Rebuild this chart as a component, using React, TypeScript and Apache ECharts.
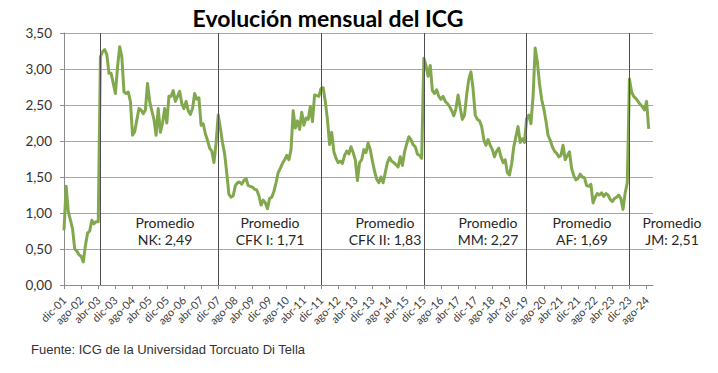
import React, { useEffect, useRef } from "react";
import * as echarts from "echarts";

const MONTHS = ["ene", "feb", "mar", "abr", "may", "jun", "jul", "ago", "sep", "oct", "nov", "dic"];

// Monthly categories from dic-01 to nov-24
const categories: string[] = [];
for (let i = 0; i < 276; i++) {
  const k = 11 + i;
  const m = k % 12;
  const y = 2001 + Math.floor(k / 12);
  categories.push(`${MONTHS[m]}-${String(y % 100).padStart(2, "0")}`);
}

// ICG values by period
const pre = [0.76, 1.37, 1.02, 0.9, 0.78, 0.5, 0.47, 0.42, 0.4, 0.32, 0.55, 0.72, 0.75, 0.9, 0.85, 0.88, 0.88];
const nk = [3.17, 3.24, 3.27, 3.2, 2.94, 2.94, 2.8, 2.66, 3.03, 3.31, 3.17, 2.68, 2.66, 2.68, 2.55, 2.08, 2.13, 2.29, 2.45, 2.43,
  2.38, 2.43, 2.8, 2.55, 2.42, 2.3, 2.08, 2.45, 2.12, 2.25, 2.45, 2.25, 2.62, 2.62, 2.7, 2.55, 2.62, 2.69, 2.52, 2.45,
  2.55, 2.42, 2.37, 2.45, 2.66, 2.58, 2.6, 2.22, 2.24, 2.1, 2.01, 1.9, 1.86, 1.7, 1.97];
const cfk1 = [2.36, 2.18, 1.98, 1.82, 1.55, 1.26, 1.22, 1.24, 1.38, 1.42, 1.43, 1.4, 1.45, 1.48, 1.38, 1.37, 1.36, 1.33, 1.32, 1.24,
  1.11, 1.18, 1.14, 1.06, 1.2, 1.22, 1.3, 1.42, 1.56, 1.62, 1.69, 1.74, 1.8, 1.74, 1.88, 2.42, 2.18, 2.28, 2.16, 2.4,
  2.22, 2.32, 2.3, 2.48, 2.27, 2.64, 2.63, 2.62];
const cfk2 = [2.73, 2.74, 2.55, 2.3, 1.95, 2.12, 1.85, 1.76, 1.7, 1.72, 1.69, 1.8, 1.86, 1.82, 1.92, 1.84, 1.74, 1.45, 1.7, 1.74,
  1.88, 1.84, 1.97, 1.88, 1.72, 1.58, 1.47, 1.42, 1.5, 1.42, 1.56, 1.7, 1.77, 1.72, 1.7, 1.67, 1.64, 1.78, 1.66, 1.85,
  1.96, 2.06, 2.02, 1.95, 1.92, 1.82, 1.8, 1.76];
const mm = [3.15, 3.05, 2.9, 3.05, 2.7, 2.66, 2.71, 2.62, 2.58, 2.62, 2.55, 2.52, 2.48, 2.42, 2.35, 2.45, 2.64, 2.46, 2.3, 2.36,
  2.64, 2.86, 2.96, 2.72, 2.36, 2.3, 2.28, 2.2, 2.02, 1.94, 2.02, 1.94, 1.88, 1.78, 1.86, 1.9, 1.78, 1.7, 1.74, 1.56,
  1.53, 1.68, 1.92, 2.06, 2.2, 1.98, 2.03, 1.98];
const af = [2.31, 2.36, 2.24, 2.62, 3.29, 3.1, 2.8, 2.58, 2.45, 2.28, 2.08, 2.01, 1.92, 1.86, 1.83, 1.78, 1.8, 1.94, 1.74, 1.8,
  1.85, 1.62, 1.52, 1.46, 1.48, 1.54, 1.5, 1.49, 1.38, 1.37, 1.4, 1.14, 1.22, 1.27, 1.25, 1.28, 1.23, 1.27, 1.25, 1.19,
  1.16, 1.2, 1.22, 1.25, 1.2, 1.05, 1.28, 1.42];
const jm = [2.86, 2.68, 2.62, 2.59, 2.55, 2.51, 2.48, 2.43, 2.55, 2.17];

const icg = [...pre, ...nk, ...cfk1, ...cfk2, ...mm, ...af, ...jm];

// Start of each presidency (vertical separators)
const periodStarts = ["may-03", "dic-07", "dic-11", "dic-15", "dic-19", "dic-23"];

// Average annotations
const averages = [
  { label: "NK: 2,49", x: 165 },
  { label: "CFK I: 1,71", x: 270 },
  { label: "CFK II: 1,83", x: 385 },
  { label: "MM: 2,27", x: 488 },
  { label: "AF: 1,69", x: 582 },
  { label: "JM: 2,51", x: 672 },
];

const yTicks = { min: 0, max: 3.5, interval: 0.5 };

export default function App() {
  const ref = useRef<HTMLDivElement>(null);

  useEffect(() => {
    if (!ref.current) return;
    const chart = echarts.init(ref.current, undefined, { renderer: "svg" });
    const option: any = {
      animation: false,
      backgroundColor: "#ffffff",
      grid: { left: 64, right: 65, top: 33, bottom: 88, containLabel: false },
      xAxis: {
        type: "category",
        data: categories,
        boundaryGap: false,
        axisLine: { show: true, lineStyle: { color: "#8c8c8c", width: 1 } },
        axisTick: {
          show: true,
          interval: (i: number) => i % 8 === 0,
          length: 4,
          lineStyle: { color: "#8c8c8c" },
        },
        axisLabel: {
          interval: (i: number) => i % 8 === 0,
          rotate: 45,
          fontFamily: "Lato",
          fontSize: 11,
          color: "#404040",
          margin: 13,
        },
        splitLine: { show: false },
      },
      yAxis: {
        type: "value",
        min: yTicks.min,
        max: yTicks.max,
        interval: yTicks.interval,
        axisLine: { show: true, lineStyle: { color: "#8c8c8c", width: 1 } },
        axisTick: { show: true, length: 4, lineStyle: { color: "#8c8c8c" } },
        axisLabel: {
          formatter: (v: number) => v.toFixed(2).replace(".", ","),
          fontFamily: "Lato",
          fontSize: 13.5,
          color: "#333333",
          margin: 12,
        },
        splitLine: { show: true, lineStyle: { color: "#a6a6a6", width: 1 } },
      },
      series: [
        {
          type: "line",
          data: icg,
          symbol: "none",
          lineStyle: { color: "#82a84e", width: 3, join: "round" },
          markLine: {
            silent: true,
            symbol: ["none", "none"],
            label: { show: false },
            lineStyle: { color: "#4d4d4d", width: 1, type: "solid" },
            data: periodStarts.map((c) => ({ xAxis: c })),
          },
          z: 3,
        },
      ],
      graphic: [
        {
          type: "text",
          x: 328,
          y: 18,
          style: {
            text: "Evolución mensual del ICG",
            textAlign: "center",
            textVerticalAlign: "middle",
            align: "center",
            verticalAlign: "middle",
            font: "bold 23px Lato",
            fill: "#000000",
          },
        },
        ...averages.map((a) => ({
          type: "text",
          x: a.x,
          y: 231,
          style: {
            text: "Promedio\n" + a.label,
            textAlign: "center",
            textVerticalAlign: "middle",
            align: "center",
            verticalAlign: "middle",
            font: "14px Lato",
            lineHeight: 17.5,
            fill: "#262626",
          },
        })),
        {
          type: "text",
          x: 31,
          y: 349,
          style: {
            text: "Fuente: ICG de la Universidad Torcuato Di Tella",
            textAlign: "left",
            textVerticalAlign: "middle",
            align: "left",
            verticalAlign: "middle",
            font: "13px 'Liberation Sans', Arial, sans-serif",
            fill: "#333333",
          },
        },
      ],
    };
    chart.setOption(option);
    return () => chart.dispose();
  }, []);

  return (
    <div
      ref={ref}
      style={{ position: "absolute", left: 0, top: 0, width: 718, height: 373, background: "#fff" }}
    />
  );
}
